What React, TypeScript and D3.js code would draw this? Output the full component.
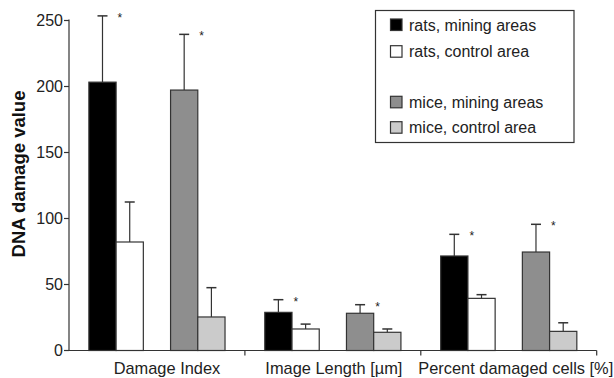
import React from "react";
import * as d3 from "d3";

const groups = ["Damage Index", "Image Length [µm]", "Percent damaged cells [%]"];
const seriesNames = ["rats, mining areas", "rats, control area", "mice, mining areas", "mice, control area"];
const seriesColors = ["#000000", "#ffffff", "#8e8e8e", "#cbcbcb"];
// slot index within a group (slot 2 is an empty gap)
const seriesSlots = [0, 1, 3, 4];

const ratsMining = [203.3, 28.9, 71.6];
const ratsControl = [82.2, 16.3, 39.5];
const miceMining = [197.3, 28.2, 74.6];
const miceControl = [25.4, 13.8, 14.5];

const ratsMiningErr = [253.5, 38.5, 88.0];
const ratsControlErr = [112.5, 20.0, 42.3];
const miceMiningErr = [239.5, 34.7, 95.6];
const miceControlErr = [47.6, 16.3, 21.0];

const significant = [
  [true, true, true],
  [false, false, false],
  [true, true, true],
  [false, false, false],
];
const yTicks = [0, 50, 100, 150, 200, 250];
const labelNudge = [10, 1, 7];

const means = [ratsMining, ratsControl, miceMining, miceControl];
const errTops = [ratsMiningErr, ratsControlErr, miceMiningErr, miceControlErr];

export default function App() {
  const W = 614, H = 378;
  const left = 69, right = 596.7, top = 20.5, bottom = 350.5;
  const y = d3.scaleLinear().domain([0, 250]).range([bottom, top]);
  const x0 = d3.scaleBand<string>().domain(groups).range([left, right]).padding(0);
  const x1 = d3.scaleBand<number>().domain([0, 1, 2, 3, 4]).range([0, x0.bandwidth()]).paddingInner(0).paddingOuter(0.73);
  const bw = x1.bandwidth();
  const stroke = "#333";
  const font = "Liberation Sans, Arial, sans-serif";

  const legendRows = [25, 51.7, 102.3, 127.7];

  return (
    <svg width={W} height={H} style={{ position: "absolute", left: 0, top: 0, background: "#fff" }} fontFamily={font}>
      <rect x={0} y={0} width={W} height={H} fill="#fff" />
      {means.map((row, s) =>
        row.map((v, g) => {
          const gx = (x0(groups[g]) as number) + (x1(seriesSlots[s]) as number);
          const cx = gx + bw / 2;
          const yTop = y(v);
          const yErr = y(errTops[s][g]);
          return (
            <g key={`${s}-${g}`}>
              <line x1={cx} x2={cx} y1={yTop} y2={yErr} stroke={stroke} strokeWidth={1.2} />
              <line x1={cx - 5} x2={cx + 5} y1={yErr} y2={yErr} stroke={stroke} strokeWidth={1.5} />
              <rect x={gx} y={yTop} width={bw} height={bottom - yTop} fill={seriesColors[s]} stroke={stroke} strokeWidth={1.2} />
              {significant[s][g] && (
                <text x={gx + bw + 1.5} y={yErr + 6} fontSize={12} fill="#222">*</text>
              )}
            </g>
          );
        })
      )}
      <line x1={left} x2={left} y1={top - 1} y2={bottom} stroke={stroke} strokeWidth={1.2} />
      {yTicks.map((t) => (
        <g key={t}>
          <line x1={left - 5} x2={left} y1={y(t)} y2={y(t)} stroke={stroke} strokeWidth={1.2} />
          <text x={left - 6} y={y(t)} dy="0.36em" textAnchor="end" fontSize={16} fill="#222">{t}</text>
        </g>
      ))}
      <line x1={left - 2} x2={right} y1={bottom} y2={bottom} stroke={stroke} strokeWidth={1.2} />
      {groups.map((g, i) => (
        <g key={g}>
          <line x1={(x0(g) as number) + x0.bandwidth()} x2={(x0(g) as number) + x0.bandwidth()} y1={bottom} y2={bottom + 5} stroke={stroke} strokeWidth={1.2} />
          <text x={(x0(g) as number) + x0.bandwidth() / 2 + labelNudge[i]} y={373.5} textAnchor="middle" fontSize={16.4} fill="#222">{g}</text>
        </g>
      ))}
      <text transform={`translate(24.5, ${(90 + 258) / 2}) rotate(-90)`} textAnchor="middle" fontSize={18.5} fontWeight="bold" fill="#111">DNA damage value</text>
      <rect x={375.5} y={10.5} width={198.5} height={132} fill="#fff" stroke={stroke} strokeWidth={1.2} />
      {seriesNames.map((n, i) => (
        <g key={n}>
          <rect x={390.5} y={legendRows[i] - 6} width={11.5} height={11.5} fill={seriesColors[i]} stroke={stroke} strokeWidth={1.2} />
          <text x={409} y={legendRows[i]} dy="0.36em" fontSize={16} fill="#222">{n}</text>
        </g>
      ))}
    </svg>
  );
}
